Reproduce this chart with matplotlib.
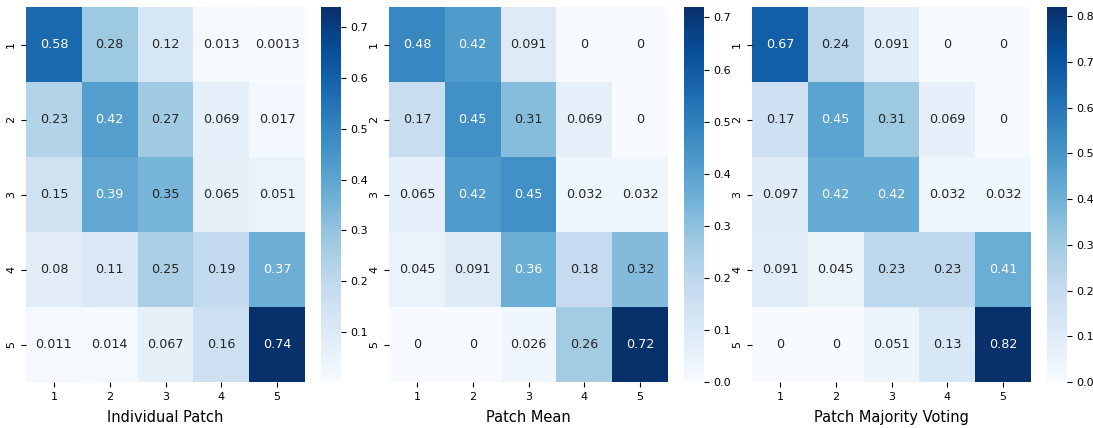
import numpy as np
import matplotlib
matplotlib.use("Agg")
import matplotlib.pyplot as plt
import seaborn as sns

labels = [1, 2, 3, 4, 5]

individual_patch = [
    [0.58, 0.28, 0.12, 0.013, 0.0013],
    [0.23, 0.42, 0.27, 0.069, 0.017],
    [0.15, 0.39, 0.35, 0.065, 0.051],
    [0.08, 0.11, 0.25, 0.19, 0.37],
    [0.011, 0.014, 0.067, 0.16, 0.74],
]
patch_mean = [
    [0.48, 0.42, 0.091, 0, 0],
    [0.17, 0.45, 0.31, 0.069, 0],
    [0.065, 0.42, 0.45, 0.032, 0.032],
    [0.045, 0.091, 0.36, 0.18, 0.32],
    [0, 0, 0.026, 0.26, 0.72],
]
patch_majority = [
    [0.67, 0.24, 0.091, 0, 0],
    [0.17, 0.45, 0.31, 0.069, 0],
    [0.097, 0.42, 0.42, 0.032, 0.032],
    [0.091, 0.045, 0.23, 0.23, 0.41],
    [0, 0, 0.051, 0.13, 0.82],
]
titles = ["Individual Patch", "Patch Mean", "Patch Majority Voting"]

fig = plt.figure(figsize=(10.93, 4.28), dpi=100)

lefts = [26, 389, 752]
for i, (mat, title) in enumerate(zip([individual_patch, patch_mean, patch_majority], titles)):
    x0 = lefts[i] / 1093
    ax = fig.add_axes([x0, 46 / 428, 279 / 1093, 375 / 428])
    cax = fig.add_axes([x0 + 295 / 1093, 46 / 428, 20 / 1093, 375 / 428])
    sns.heatmap(np.array(mat), annot=True, cmap="Blues", ax=ax, cbar_ax=cax,
                xticklabels=labels, yticklabels=labels, annot_kws={"size": 9.2})
    ax.set_xlabel(title, fontsize=10.5, labelpad=6)
    ax.tick_params(labelsize=8)
    cax.tick_params(labelsize=8)

fig.savefig("out.png", dpi=100)
